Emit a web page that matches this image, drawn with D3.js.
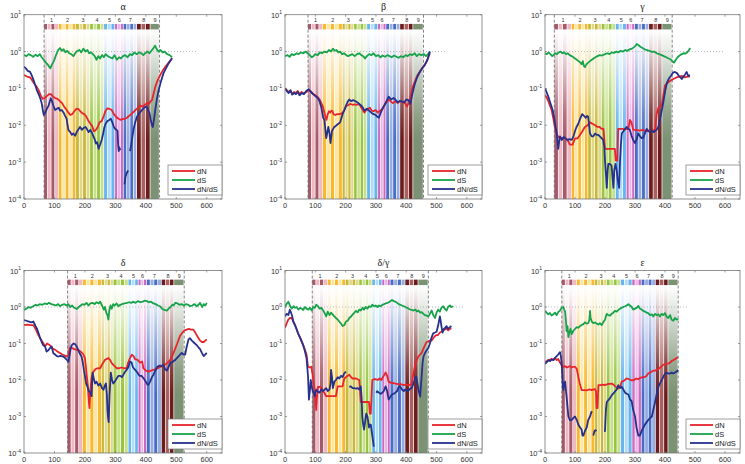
<!DOCTYPE html>
<html><head><meta charset="utf-8">
<script src="https://cdn.jsdelivr.net/npm/d3@7"></script>
<style>body{margin:0;background:#fff}svg{display:block}</style>
</head><body>
<svg id="c" width="745" height="464"></svg>
<script>
// ---------------- DATA ----------------
const xTicks = [0,100,200,300,400,500,600];
const yExponents = [1,0,-1,-2,-3,-4];
const seriesNames = ["dN","dS","dN/dS"];
const domainLabels = ["1","2","3","4","5","6","7","8","9"];
const domainDark  = ["#a45a68","#f8b830","#c8b838","#98c440","#68b4ec","#cc68c0","#4a6cc4","#6c1c1c","#7c9274"];
const domainLight = ["#f0b8c4","#fde6a0","#e0d888","#c8e08c","#b4dcf8","#eab4e4","#94aee4","#a86060","#7c9274"];
const domainSubStripes = [4,5,4,4,3,3,4,3,1];
const panelTitles = ["α","β","γ","δ","δ/γ","ε"];

const alphaDomains = [66,114,171,217,263,299,327,371,415,445];
const betaDomains  = [76,125,190,228,271,307,334,380,423,457];
const gammaDomains = [31,89,144,189,236,272,300,347,391,424];
const deltaDomains = [143,193,255,294,343,376,403,452,493,526];
const dgDomains    = [90,141,201,245,288,321,348,397,440,473];
const epsDomains   = [56,106,167,206,253,291,322,369,411,444];
const dottedEnds = [570,528,600,580,590,477];

const alphaDS = [[0,0.8],[8,0.75],[15,0.85],[22,0.8],[30,0.72],[38,0.82],[45,0.75],[52,0.85],[58,0.7],[65,0.6],[72,0.5],[80,0.42],[86,0.35],[92,0.45],[98,0.55],[105,0.8],[112,1.1],[118,1.25],[124,1.05],[130,1.15],[136,0.95],[142,1.05],[148,0.9],[155,0.85],[162,0.75],[168,0.9],[175,1.05],[182,1.1],[188,0.95],[195,1.2],[202,1.0],[208,1.1],[214,0.9],[220,0.95],[226,0.85],[232,0.75],[238,0.6],[244,0.75],[250,0.65],[256,0.8],[262,0.7],[268,0.85],[275,0.75],[282,0.7],[290,0.65],[297,0.8],[305,0.6],[312,0.7],[318,0.65],[325,0.75],[332,0.8],[340,0.7],[348,0.85],[355,0.8],[362,0.95],[370,0.85],[378,0.95],[385,0.9],[392,0.8],[398,0.9],[405,1.0],[412,0.9],[418,1.05],[424,1.2],[430,1.45],[436,1.15],[442,1.0],[448,1.1],[455,0.95],[462,1.0],[470,0.85],[478,0.8],[486,0.7]];
const alphaDN = [[0,0.23],[10,0.21],[20,0.2],[28,0.16],[35,0.13],[42,0.11],[48,0.09],[55,0.065],[61,0.052],[68,0.055],[75,0.062],[82,0.07],[88,0.07],[95,0.06],[102,0.055],[110,0.052],[118,0.045],[125,0.04],[132,0.032],[140,0.026],[146,0.022],[152,0.019],[158,0.02],[165,0.024],[172,0.028],[178,0.028],[185,0.024],[192,0.021],[198,0.02],[205,0.017],[212,0.013],[218,0.011],[224,0.0095],[230,0.0068],[236,0.0075],[242,0.009],[248,0.012],[255,0.013],[262,0.018],[268,0.025],[274,0.029],[280,0.028],[288,0.026],[295,0.02],[302,0.017],[310,0.015],[318,0.014],[325,0.015],[332,0.015],[338,0.016],[345,0.018],[352,0.02],[360,0.023],[368,0.027],[375,0.03],[382,0.034],[390,0.032],[397,0.036],[404,0.04],[410,0.038],[416,0.045],[420,0.048],[426,0.075],[431,0.11],[438,0.16],[447,0.23],[455,0.3],[465,0.4],[475,0.5],[486,0.66]];
const alphaR = [[0,0.39],[6,0.35],[12,0.3],[20,0.28],[26,0.22],[31,0.17],[36,0.13],[42,0.09],[48,0.07],[53,0.055],[58,0.04],[62,0.025],[65,0.019],[70,0.022],[75,0.028],[80,0.033],[85,0.045],[88,0.054],[92,0.045],[96,0.035],[102,0.026],[108,0.028],[114,0.03],[118,0.025],[124,0.026],[130,0.022],[135,0.018],[140,0.015],[143,0.01],[146,0.0074],[152,0.0065],[157,0.0055],[162,0.006],[168,0.0052],[174,0.0068],[180,0.008],[184,0.009],[190,0.0075],[196,0.0085],[202,0.009],[206,0.008],[212,0.0065],[218,0.0075],[224,0.006],[228,0.005],[232,0.0042],[236,0.0032],[240,0.0035],[245,0.0023],[250,0.003],[255,0.004],[260,0.006],[264,0.009],[268,0.011],[274,0.013],[280,0.014],[285,0.015],[290,0.012],[295,0.009],[299,0.008],[304,0.0075],[307,0.007],[309,0.003],[311,0.002],[313,0.0025],[316,0.0021],[318,null],[330,0.00025],[333,0.0004],[337,0.0005],[342,0.0006],[345,null],[348,0.002],[352,0.003],[356,0.005],[360,0.008],[365,0.012],[371,0.017],[376,0.02],[382,0.023],[388,0.026],[394,0.03],[400,0.032],[404,0.03],[408,0.025],[412,0.021],[416,0.014],[420,0.01],[423,0.009],[427,0.015],[431,0.026],[436,0.05],[442,0.09],[450,0.16],[458,0.26],[466,0.35],[476,0.5],[486,0.66]];

const betaDS = [[0,0.75],[8,0.8],[15,0.72],[22,0.85],[30,0.8],[38,0.9],[45,0.85],[52,0.95],[60,0.9],[68,1.0],[75,0.9],[82,0.8],[88,0.7],[94,0.75],[100,0.85],[108,0.8],[115,0.95],[122,0.9],[130,1.0],[138,0.95],[145,1.1],[152,1.0],[158,1.2],[164,1.05],[170,1.1],[176,0.95],[182,1.0],[188,0.85],[195,0.9],[202,0.8],[208,0.75],[215,0.8],[222,0.85],[230,0.75],[238,0.85],[245,0.9],[252,0.8],[258,0.75],[264,0.65],[270,0.75],[278,0.85],[285,0.8],[292,0.9],[300,0.75],[308,0.8],[315,0.7],[322,0.78],[330,0.72],[338,0.8],[345,0.75],[352,0.7],[360,0.78],[368,0.72],[375,0.68],[382,0.75],[390,0.7],[398,0.8],[405,0.75],[412,0.85],[420,0.8],[428,0.9],[435,0.75],[442,0.85],[450,0.8],[458,0.85],[465,0.75],[472,0.85],[478,1.0]];
const betaDN = [[0,0.1],[6,0.09],[12,0.08],[18,0.085],[24,0.07],[30,0.08],[36,0.075],[42,0.085],[48,0.07],[55,0.08],[62,0.072],[70,0.08],[78,0.09],[85,0.085],[92,0.07],[100,0.065],[108,0.058],[114,0.05],[120,0.04],[125,0.032],[130,0.022],[134,0.016],[137,0.014],[141,0.02],[145,0.024],[149,0.022],[153,0.025],[157,0.024],[160,0.02],[166,0.019],[172,0.02],[180,0.02],[188,0.021],[195,0.025],[201,0.033],[208,0.035],[215,0.038],[223,0.036],[230,0.037],[238,0.036],[245,0.038],[252,0.03],[258,0.025],[262,0.022],[268,0.026],[274,0.028],[280,0.03],[286,0.025],[292,0.024],[299,0.026],[306,0.022],[314,0.025],[321,0.027],[328,0.035],[335,0.042],[342,0.05],[348,0.045],[356,0.04],[364,0.045],[372,0.04],[380,0.046],[388,0.042],[396,0.04],[402,0.032],[408,0.04],[414,0.06],[420,0.1],[428,0.15],[436,0.22],[444,0.28],[452,0.35],[462,0.45],[470,0.6],[478,0.9]];
const betaR = [[0,0.1],[6,0.085],[12,0.075],[18,0.09],[24,0.068],[30,0.075],[36,0.07],[42,0.08],[48,0.065],[55,0.075],[62,0.07],[70,0.085],[78,0.095],[85,0.08],[92,0.072],[100,0.062],[108,0.055],[114,0.045],[120,0.03],[126,0.016],[130,0.014],[133,0.008],[136,0.0045],[139,0.006],[143,0.009],[147,0.006],[150,0.0033],[153,0.005],[155,0.007],[159,0.008],[163,0.009],[170,0.01],[176,0.011],[182,0.012],[190,0.02],[196,0.026],[202,0.035],[208,0.045],[212,0.05],[218,0.045],[225,0.048],[234,0.044],[242,0.04],[250,0.035],[255,0.032],[262,0.025],[270,0.028],[277,0.025],[285,0.022],[292,0.02],[299,0.019],[305,0.017],[310,0.016],[316,0.022],[321,0.028],[328,0.035],[335,0.045],[342,0.06],[350,0.05],[358,0.055],[364,0.05],[372,0.042],[380,0.046],[386,0.044],[394,0.042],[400,0.05],[408,0.048],[414,0.038],[420,0.07],[428,0.13],[436,0.2],[444,0.27],[452,0.34],[462,0.44],[470,0.6],[478,1.0]];

const gammaDS = [[0,0.9],[6,0.85],[12,0.95],[18,0.85],[24,0.75],[28,0.8],[34,0.9],[40,0.85],[46,0.95],[52,1.0],[58,0.9],[64,0.95],[70,0.85],[76,0.9],[82,0.8],[89,0.75],[95,0.7],[100,0.65],[106,0.6],[112,0.55],[118,0.5],[122,0.45],[126,0.55],[130,0.4],[133,0.38],[138,0.45],[144,0.5],[150,0.55],[156,0.6],[162,0.65],[168,0.7],[175,0.75],[182,0.8],[190,0.78],[200,0.85],[208,0.9],[215,0.85],[222,0.95],[230,0.92],[238,1.0],[245,0.95],[252,1.05],[260,1.0],[268,1.1],[275,1.05],[282,1.15],[290,1.2],[296,1.3],[302,1.45],[306,1.6],[311,1.5],[318,1.35],[325,1.25],[332,1.15],[340,1.1],[348,1.05],[356,0.98],[364,1.0],[372,0.9],[380,0.85],[389,0.8],[396,0.75],[404,0.7],[412,0.65],[418,0.62],[424,0.55],[430,0.5],[436,0.6],[442,0.7],[450,0.8],[456,0.85],[462,0.9],[468,0.88],[474,0.95],[480,1.1],[484,1.25]];
const gammaDN = [[0,0.066],[6,0.055],[11,0.045],[16,0.035],[22,0.026],[28,0.015],[33,0.009],[38,0.006],[44,0.0048],[52,0.0045],[60,0.0045],[67,0.0045],[75,0.004],[83,0.003],[92,0.003],[100,0.0044],[108,0.0044],[117,0.0055],[125,0.007],[133,0.009],[142,0.01],[150,0.012],[158,0.011],[167,0.01],[175,0.009],[182,0.009],[189,0.008],[195,0.008],[200,0.0023],[210,0.0023],[222,0.0023],[233,0.0023],[236,0.0011],[241,0.0011],[244,0.008],[255,0.008],[266,0.0078],[278,0.008],[283,0.014],[288,0.012],[294,0.0075],[305,0.0075],[315,0.0072],[325,0.0075],[335,0.007],[345,0.007],[356,0.0072],[367,0.0075],[372,0.02],[378,0.03],[383,0.032],[389,0.033],[394,0.06],[400,0.12],[408,0.14],[417,0.16],[428,0.18],[439,0.2],[447,0.21],[456,0.22],[465,0.2],[474,0.21],[483,0.21]];
const gammaR = [[0,0.1],[5,0.08],[11,0.06],[16,0.045],[22,0.032],[26,0.025],[31,0.015],[35,0.009],[39,0.006],[42,0.0035],[44,0.0023],[47,0.0035],[50,0.005],[56,0.004],[62,0.0048],[67,0.0045],[74,0.004],[82,0.0042],[89,0.004],[95,0.005],[100,0.007],[105,0.009],[111,0.011],[117,0.015],[124,0.02],[130,0.018],[136,0.016],[141,0.018],[144,0.017],[147,0.01],[150,0.006],[156,0.005],[161,0.005],[167,0.006],[172,0.0055],[178,0.0055],[185,0.0048],[194,0.004],[198,0.0025],[200,0.0011],[203,0.0005],[206,0.0002],[209,0.0006],[211,0.0009],[216,0.0009],[222,0.0008],[225,0.0004],[228,0.0002],[231,0.0006],[235,0.0009],[239,0.0006],[243,0.0003],[247,0.0002],[250,0.001],[253,0.003],[256,0.006],[262,0.007],[267,0.008],[272,0.009],[278,0.008],[283,0.0075],[289,0.005],[294,0.004],[300,0.0033],[305,0.004],[311,0.006],[317,0.005],[322,0.0045],[328,0.0047],[333,0.006],[339,0.008],[345,0.007],[350,0.0065],[356,0.0072],[362,0.0065],[367,0.007],[372,0.0075],[378,0.009],[383,0.014],[389,0.025],[394,0.04],[400,0.08],[406,0.14],[412,0.18],[420,0.22],[427,0.27],[433,0.28],[440,0.26],[446,0.22],[451,0.2],[456,0.18],[462,0.21],[467,0.24],[472,0.28],[477,0.22],[483,0.23]];

const deltaDS = [[0,0.83],[8,0.9],[15,1.0],[22,0.95],[30,1.05],[38,1.15],[45,1.1],[52,1.2],[60,1.15],[68,1.25],[75,1.2],[82,1.3],[90,1.2],[98,1.15],[105,1.1],[112,1.2],[118,1.05],[125,1.15],[132,1.2],[140,1.1],[145,1.2],[152,1.0],[158,1.1],[165,0.95],[173,0.88],[180,1.0],[186,1.1],[192,1.2],[198,1.15],[205,1.3],[212,1.1],[218,1.25],[225,1.3],[232,1.2],[238,1.35],[245,1.25],[250,1.4],[256,1.1],[262,0.85],[266,1.0],[270,0.7],[274,0.6],[277,0.45],[280,0.8],[284,1.1],[288,0.9],[293,1.2],[298,1.1],[304,1.25],[310,1.05],[316,1.15],[322,1.2],[330,1.25],[338,1.3],[345,1.35],[352,1.3],[359,1.4],[366,1.3],[374,1.45],[382,1.35],[390,1.4],[397,1.5],[403,1.45],[410,1.35],[417,1.4],[425,1.25],[432,1.2],[440,1.1],[447,1.05],[453,0.9],[458,0.85],[464,0.82],[469,0.8],[475,0.9],[481,1.0],[487,1.15],[491,1.1],[497,1.3],[504,1.25],[510,1.15],[517,1.2],[525,1.1],[532,1.2],[540,1.15],[545,1.05],[552,1.1],[560,1.2],[567,1.05],[573,1.15],[578,1.3],[585,1.0],[590,1.2],[595,1.1],[600,1.3]];
const deltaDN = [[0,0.32],[10,0.33],[20,0.32],[31,0.32],[38,0.25],[47,0.17],[55,0.13],[64,0.1],[70,0.085],[76,0.1],[80,0.095],[85,0.09],[92,0.075],[98,0.07],[102,0.068],[110,0.06],[118,0.055],[126,0.05],[134,0.047],[140,0.044],[145,0.048],[151,0.076],[158,0.075],[165,0.07],[173,0.067],[180,0.065],[188,0.058],[195,0.05],[200,0.04],[204,0.02],[206,0.013],[209,0.008],[211,0.0044],[213,0.0025],[215,0.0017],[217,0.004],[219,0.0067],[222,0.012],[228,0.017],[235,0.02],[242,0.021],[250,0.021],[258,0.028],[266,0.036],[272,0.038],[277,0.04],[283,0.035],[288,0.029],[295,0.025],[304,0.021],[312,0.021],[320,0.022],[328,0.021],[337,0.021],[342,0.03],[348,0.04],[354,0.049],[360,0.045],[365,0.037],[372,0.036],[381,0.03],[388,0.032],[392,0.021],[400,0.018],[409,0.017],[417,0.018],[425,0.019],[433,0.02],[440,0.021],[447,0.023],[455,0.024],[462,0.026],[469,0.029],[475,0.032],[480,0.036],[486,0.045],[491,0.055],[497,0.075],[503,0.1],[512,0.16],[520,0.2],[527,0.23],[534,0.24],[541,0.25],[548,0.24],[556,0.24],[562,0.2],[567,0.17],[573,0.14],[578,0.12],[584,0.11],[590,0.11],[595,0.12],[600,0.13]];
const deltaR = [[0,0.44],[8,0.42],[16,0.4],[24,0.38],[31,0.4],[38,0.3],[43,0.25],[47,0.2],[52,0.15],[58,0.11],[63,0.09],[69,0.083],[74,0.06],[80,0.065],[85,0.075],[91,0.083],[96,0.055],[102,0.05],[108,0.045],[113,0.044],[120,0.046],[129,0.044],[135,0.04],[140,0.036],[146,0.032],[150,0.05],[154,0.08],[157,0.09],[163,0.1],[168,0.095],[173,0.083],[180,0.06],[185,0.05],[189,0.044],[193,0.03],[197,0.018],[200,0.013],[204,0.008],[208,0.0067],[213,0.005],[218,0.0045],[222,0.0036],[225,0.016],[228,0.012],[233,0.008],[238,0.009],[244,0.007],[250,0.008],[256,0.006],[261,0.0054],[265,0.007],[269,0.008],[272,0.004],[274,0.0015],[276,0.0009],[278,0.0007],[281,0.004],[285,0.016],[289,0.01],[293,0.008],[298,0.009],[304,0.011],[310,0.013],[315,0.013],[322,0.012],[330,0.016],[337,0.019],[342,0.022],[348,0.032],[353,0.03],[358,0.022],[365,0.019],[372,0.016],[379,0.013],[386,0.013],[393,0.011],[400,0.009],[405,0.0075],[409,0.0075],[414,0.009],[420,0.012],[425,0.014],[431,0.018],[436,0.022],[441,0.024],[447,0.025],[452,0.024],[458,0.026],[463,0.02],[469,0.018],[474,0.022],[480,0.03],[486,0.03],[491,0.033],[496,0.035],[502,0.04],[508,0.045],[513,0.05],[518,0.055],[524,0.05],[529,0.05],[534,0.08],[540,0.13],[545,0.14],[551,0.12],[556,0.11],[561,0.1],[567,0.09],[572,0.08],[578,0.07],[584,0.055],[590,0.045],[595,0.05],[600,0.055]];

const dgDS = [[0,1.0],[5,1.2],[11,1.4],[16,1.1],[22,0.9],[28,1.05],[33,0.95],[38,1.0],[44,0.85],[50,0.95],[55,0.9],[60,0.83],[66,1.0],[71,0.9],[77,0.85],[82,0.95],[88,0.8],[93,1.0],[98,0.95],[103,1.15],[109,1.05],[114,0.9],[120,0.95],[125,0.83],[130,0.7],[136,0.55],[141,0.75],[147,0.6],[152,0.7],[158,0.62],[163,0.55],[168,0.5],[174,0.45],[179,0.4],[185,0.35],[190,0.3],[196,0.32],[201,0.4],[207,0.42],[212,0.5],[218,0.55],[223,0.62],[229,0.7],[234,0.78],[240,0.72],[245,0.85],[250,0.8],[256,0.95],[261,0.85],[266,1.0],[272,0.9],[277,1.05],[283,1.0],[288,1.15],[294,1.05],[299,1.1],[305,1.0],[310,1.1],[316,1.05],[321,1.15],[327,1.2],[332,1.25],[338,1.3],[343,1.35],[348,1.45],[353,1.55],[359,1.45],[364,1.4],[370,1.3],[375,1.2],[381,1.15],[386,1.1],[392,1.05],[397,1.0],[403,0.95],[408,0.9],[413,0.85],[418,0.83],[424,0.8],[430,0.85],[435,0.75],[440,0.8],[446,0.7],[451,0.72],[457,0.65],[462,0.6],[468,0.58],[473,0.55],[478,0.65],[484,0.8],[489,0.6],[495,0.5],[500,0.7],[505,0.85],[511,0.75],[516,0.95],[522,1.05],[527,0.9],[533,0.8],[538,1.0],[544,1.1],[549,1.0],[555,1.05]];
const dgDN = [[0,0.27],[5,0.35],[11,0.45],[16,0.5],[22,0.5],[27,0.42],[33,0.32],[38,0.25],[43,0.19],[49,0.15],[54,0.12],[60,0.09],[65,0.07],[71,0.05],[76,0.023],[81,0.022],[87,0.023],[90,0.016],[92,0.0125],[95,0.008],[98,0.0054],[101,0.003],[103,0.0015],[106,0.004],[109,0.0065],[114,0.0065],[120,0.006],[125,0.005],[130,0.0044],[136,0.0036],[145,0.0036],[155,0.0036],[163,0.0036],[168,0.0036],[174,0.0067],[182,0.0067],[190,0.0067],[193,0.009],[196,0.011],[201,0.012],[207,0.013],[212,0.014],[218,0.012],[223,0.011],[229,0.011],[234,0.011],[240,0.0105],[245,0.01],[250,0.0025],[258,0.0025],[266,0.0025],[272,0.0025],[277,0.0025],[280,0.0012],[283,0.0012],[288,0.01],[294,0.0105],[300,0.0105],[306,0.01],[312,0.011],[318,0.01],[323,0.012],[328,0.014],[332,0.016],[337,0.013],[342,0.009],[348,0.0085],[353,0.0082],[359,0.0082],[364,0.008],[370,0.0078],[375,0.0075],[381,0.0078],[386,0.0075],[392,0.0072],[397,0.0075],[402,0.0075],[408,0.0072],[413,0.0075],[418,0.0075],[424,0.015],[429,0.026],[435,0.035],[440,0.044],[446,0.05],[451,0.055],[456,0.07],[462,0.09],[467,0.11],[473,0.115],[478,0.12],[484,0.12],[489,0.14],[495,0.16],[500,0.17],[505,0.17],[511,0.2],[516,0.21],[522,0.23],[527,0.24],[533,0.26],[538,0.23],[544,0.25],[549,0.26]];
const dgR = [[0,0.55],[5,0.65],[11,0.6],[16,0.84],[20,0.7],[24,0.55],[27,0.4],[33,0.32],[38,0.25],[43,0.19],[49,0.15],[54,0.12],[60,0.09],[65,0.065],[71,0.04],[74,0.02],[76,0.0125],[79,0.0029],[82,0.005],[85,0.01],[89,0.006],[92,0.0048],[95,0.0045],[98,0.0036],[101,0.005],[103,0.0054],[108,0.0048],[114,0.0045],[120,0.0055],[125,0.005],[130,0.0054],[136,0.006],[141,0.005],[147,0.0055],[150,0.008],[152,0.019],[155,0.012],[158,0.006],[163,0.009],[168,0.01],[174,0.012],[179,0.011],[185,0.013],[190,0.012],[195,0.015],[201,0.017],[204,null],[212,0.0065],[217,0.0067],[223,0.006],[229,0.006],[234,0.0058],[240,0.006],[245,0.0055],[250,0.0067],[253,0.003],[255,0.001],[258,0.0006],[261,0.00044],[265,0.0008],[268,0.0012],[272,0.001],[275,0.0007],[277,0.0005],[280,0.0006],[283,0.0006],[286,0.0004],[288,0.0003],[291,0.0002],[293,0.00015],[295,null],[301,0.0045],[304,0.0049],[310,0.0045],[316,0.0042],[321,0.0045],[326,0.005],[332,0.0067],[337,0.005],[342,0.0029],[348,0.0035],[353,0.004],[359,0.0042],[364,0.0045],[370,0.005],[375,0.0065],[380,0.0067],[386,0.0055],[392,0.005],[397,0.0055],[402,0.005],[408,0.0052],[413,0.0058],[418,0.006],[424,0.008],[429,0.011],[433,0.0125],[437,0.008],[441,0.005],[446,0.0035],[450,0.01],[454,0.03],[457,0.044],[462,0.055],[467,0.065],[473,0.075],[478,0.1],[484,0.15],[489,0.19],[495,0.2],[500,0.21],[505,0.3],[511,0.55],[514,0.4],[516,0.3],[520,0.2],[524,0.25],[529,0.27],[533,0.3],[538,0.25],[544,0.28],[549,0.3]];

const epsDS = [[0,0.78],[5,0.7],[11,0.63],[17,0.68],[22,0.58],[28,0.63],[33,0.7],[39,0.6],[44,0.72],[50,0.8],[56,0.95],[61,1.0],[64,0.85],[67,0.75],[70,0.4],[72,0.22],[75,0.3],[78,0.15],[81,0.2],[85,0.25],[89,0.18],[94,0.22],[100,0.25],[106,0.28],[111,0.27],[117,0.3],[122,0.32],[128,0.34],[133,0.38],[139,0.35],[144,0.36],[148,0.45],[150,0.78],[152,0.5],[156,0.4],[161,0.36],[167,0.38],[172,0.35],[178,0.33],[183,0.36],[189,0.32],[194,0.38],[200,0.45],[203,0.55],[206,0.65],[211,0.6],[217,0.58],[222,0.65],[228,0.7],[233,0.78],[239,0.75],[244,0.82],[250,0.9],[256,0.96],[261,1.0],[267,1.05],[272,1.1],[278,1.2],[283,1.1],[289,1.0],[294,0.85],[300,0.9],[306,0.95],[311,1.07],[317,0.9],[322,0.85],[328,0.78],[333,0.75],[339,0.7],[344,0.68],[350,0.6],[356,0.63],[361,0.55],[367,0.65],[372,0.6],[378,0.63],[383,0.55],[389,0.65],[394,0.6],[400,0.68],[405,0.55],[411,0.5],[417,0.6],[422,0.45],[428,0.42],[433,0.5],[439,0.45],[444,0.48]];
const epsDN = [[0,0.031],[6,0.033],[11,0.035],[17,0.036],[22,0.038],[28,0.036],[33,0.04],[39,0.035],[44,0.038],[50,0.03],[56,0.025],[61,0.023],[67,0.024],[72,0.022],[78,0.023],[83,0.024],[89,0.022],[94,0.023],[100,0.023],[106,0.02],[111,0.012],[116,0.008],[122,0.0053],[130,0.0053],[139,0.0052],[147,0.0055],[156,0.0053],[162,0.0055],[167,0.0056],[170,0.0048],[172,0.0017],[175,0.0017],[178,0.0072],[185,0.0072],[192,0.0075],[199,0.0072],[206,0.0076],[213,0.0078],[222,0.008],[228,0.0075],[233,0.0068],[239,0.0062],[244,0.0058],[250,0.0065],[256,0.009],[263,0.0095],[272,0.011],[280,0.0105],[289,0.0098],[297,0.01],[304,0.011],[311,0.0105],[318,0.0115],[326,0.012],[333,0.012],[339,0.013],[344,0.015],[350,0.016],[356,0.017],[361,0.018],[367,0.018],[372,0.019],[378,0.02],[384,0.022],[389,0.024],[394,0.026],[400,0.027],[405,0.028],[411,0.028],[417,0.03],[422,0.033],[428,0.035],[433,0.037],[439,0.04],[444,0.042]];
const epsR = [[0,0.028],[5,0.03],[11,0.035],[17,0.033],[22,0.036],[28,0.035],[33,0.04],[39,0.045],[44,0.05],[50,0.058],[53,0.045],[56,0.025],[59,0.008],[61,0.0053],[64,0.008],[67,0.009],[70,0.005],[72,0.0035],[75,0.0018],[78,0.001],[83,0.0008],[89,0.0008],[94,0.0009],[100,0.001],[106,0.0008],[111,0.0006],[117,0.0005],[122,0.00044],[125,0.0003],[128,0.0003],[133,0.0004],[139,0.0005],[144,0.0008],[150,0.001],[153,0.0012],[156,0.0014],[158,null],[161,0.0003],[165,0.0004],[168,0.00042],[172,0.0004],[174,null],[197,0.0004],[200,0.0004],[203,0.0015],[206,0.0025],[211,0.0028],[217,0.0032],[222,0.0038],[228,0.0043],[233,0.0048],[239,0.0055],[244,0.0072],[250,0.006],[256,0.0065],[261,0.0055],[267,0.0045],[272,0.0042],[278,0.004],[283,0.003],[289,0.0026],[294,0.0015],[300,0.001],[305,0.0005],[311,0.0003],[316,0.0003],[322,0.0004],[328,0.0005],[333,0.0006],[339,0.0007],[344,0.0008],[350,0.0009],[356,0.001],[361,0.0015],[367,0.0025],[372,0.004],[378,0.0065],[383,0.008],[389,0.01],[394,0.012],[400,0.015],[405,0.016],[411,0.015],[417,0.015],[422,0.016],[428,0.015],[433,0.016],[439,0.017],[444,0.019]];

// ---------------- LAYOUT ----------------
const frames = [
  {l:24, r:222, t:14.7, b:199, ty:6},
  {l:285, r:482, t:14.7, b:199, ty:6},
  {l:545, r:740, t:14.7, b:199, ty:6},
  {l:24, r:222, t:270.5, b:453, ty:262},
  {l:285, r:482, t:270.5, b:453, ty:262},
  {l:545, r:740, t:270.5, b:453, ty:262}
];
const panelData = [
  {dn:alphaDN, ds:alphaDS, r:alphaR, dom:alphaDomains},
  {dn:betaDN, ds:betaDS, r:betaR, dom:betaDomains},
  {dn:gammaDN, ds:gammaDS, r:gammaR, dom:gammaDomains},
  {dn:deltaDN, ds:deltaDS, r:deltaR, dom:deltaDomains},
  {dn:dgDN, ds:dgDS, r:dgR, dom:dgDomains},
  {dn:epsDN, ds:epsDS, r:epsR, dom:epsDomains}
];
const colors = {dN:"#e8242c", dS:"#17a34a", dNdS:"#25318c"};
const font = "'Liberation Sans', Arial, sans-serif";

const svg = d3.select("#c");
const defs = svg.append("defs");

// gradients per colour
function gradId(d, k){ return "g"+d+"_"+k; }
for (let d=0; d<9; d++){
  [domainDark[d], domainLight[d]].forEach((col,k)=>{
    const g = defs.append("linearGradient").attr("id",gradId(d,k))
      .attr("x1",0).attr("y1",0).attr("x2",0).attr("y2",1);
    [[0,0.0],[0.12,0.18],[0.3,0.5],[0.5,0.85],[0.65,1],[1,1]].forEach(([o,a])=>{
      g.append("stop").attr("offset",o).attr("stop-color",col).attr("stop-opacity",a);
    });
  });
}

panelData.forEach((p,i)=>{
  const f = frames[i];
  const x = d3.scaleLinear().domain([0,650]).range([f.l,f.r]);
  const y = d3.scaleLog().domain([1e-4,10]).range([f.b,f.t]);
  const g = svg.append("g");
  defs.append("clipPath").attr("id","clip"+i).append("rect")
    .attr("x",f.l).attr("y",f.t).attr("width",f.r-f.l).attr("height",f.b-f.t);

  // stripes
  const hdrTop = y(Math.pow(10,0.75)), hdrBot = y(Math.pow(10,0.6));
  for (let d=0; d<9; d++){
    const a = p.dom[d], b = p.dom[d+1], n = domainSubStripes[d];
    for (let s=0; s<n; s++){
      const sa = a + (b-a)*s/n, sb = a + (b-a)*(s+1)/n;
      const k = s%2;
      const x0 = x(sa), w = Math.max(0.5, x(sb)-x(sa)-0.7);
      g.append("rect").attr("x",x0).attr("y",hdrBot).attr("width",w).attr("height",f.b-hdrBot)
        .attr("fill","url(#"+gradId(d,k)+")");
      g.append("rect").attr("x",x0).attr("y",hdrTop).attr("width",w).attr("height",hdrBot-hdrTop)
        .attr("fill",k===0?domainDark[d]:domainLight[d]);
    }
    g.append("text").attr("x",x((a+b)/2)).attr("y",y(Math.pow(10,0.8)))
      .attr("text-anchor","middle").attr("font-family",font).attr("font-size",5.5).attr("fill","#333")
      .text(domainLabels[d]);
  }
  // dashed borders
  [p.dom[0], p.dom[9]].forEach(v=>{
    g.append("line").attr("x1",x(v)).attr("x2",x(v)).attr("y1",f.t).attr("y2",f.b)
      .attr("stroke","#666").attr("stroke-width",0.8).attr("stroke-dasharray","3,2");
  });
  // dotted y=1
  g.append("line").attr("x1",x(0)).attr("x2",x(dottedEnds[i])).attr("y1",y(1)).attr("y2",y(1))
    .attr("stroke","#aaa").attr("stroke-width",0.8).attr("stroke-dasharray","1,2");

  // series
  const line = d3.line().defined(d=>d[1]!==null).x(d=>x(d[0])).y(d=>y(d[1]));
  const lg = g.append("g").attr("clip-path","url(#clip"+i+")");
  [[p.dn,colors.dN],[p.ds,colors.dS],[p.r,colors.dNdS]].forEach(([data,col])=>{
    lg.append("path").datum(data).attr("d",line).attr("fill","none")
      .attr("stroke",col).attr("stroke-width",1.8).attr("stroke-linejoin","round");
  });

  // axes box
  g.append("rect").attr("x",f.l).attr("y",f.t).attr("width",f.r-f.l).attr("height",f.b-f.t)
    .attr("fill","none").attr("stroke","#777").attr("stroke-width",0.8);
  // x ticks
  xTicks.forEach(v=>{
    g.append("line").attr("x1",x(v)).attr("x2",x(v)).attr("y1",f.b).attr("y2",f.b-2).attr("stroke","#777").attr("stroke-width",0.7);
    g.append("line").attr("x1",x(v)).attr("x2",x(v)).attr("y1",f.t).attr("y2",f.t+2).attr("stroke","#777").attr("stroke-width",0.7);
    g.append("text").attr("x",x(v)).attr("y",f.b+9).attr("text-anchor","middle")
      .attr("font-family",font).attr("font-size",7.5).attr("fill","#333").text(v);
  });
  // y ticks
  yExponents.forEach(e=>{
    const yy = y(Math.pow(10,e));
    g.append("line").attr("x1",f.l).attr("x2",f.l+2).attr("y1",yy).attr("y2",yy).attr("stroke","#777").attr("stroke-width",0.7);
    g.append("line").attr("x1",f.r).attr("x2",f.r-2).attr("y1",yy).attr("y2",yy).attr("stroke","#777").attr("stroke-width",0.7);
    const t = g.append("text").attr("x",f.l-3).attr("y",yy+3).attr("text-anchor","end")
      .attr("font-family",font).attr("font-size",7.5).attr("fill","#333");
    t.append("tspan").text("10");
    t.append("tspan").attr("dy",-3.5).attr("font-size",5).text(e);
  });
  // title
  g.append("text").attr("x",(f.l+f.r)/2).attr("y",f.ty+3.5).attr("text-anchor","middle")
    .attr("font-family","'Liberation Serif','DejaVu Serif',serif").attr("font-size",10).attr("fill","#222")
    .text(panelTitles[i]);
  // legend
  const lw = 54, lh = 30, lx = f.r-lw, ly = f.b-lh-4;
  const leg = g.append("g");
  leg.append("rect").attr("x",lx).attr("y",ly).attr("width",lw).attr("height",lh)
    .attr("fill","#fff").attr("stroke","#777").attr("stroke-width",0.7);
  [colors.dN,colors.dS,colors.dNdS].forEach((c,j)=>{
    const yy = ly+6+j*9;
    leg.append("line").attr("x1",lx+4).attr("x2",lx+27).attr("y1",yy).attr("y2",yy).attr("stroke",c).attr("stroke-width",1.8);
    leg.append("text").attr("x",lx+29).attr("y",yy+3).attr("font-family",font).attr("font-size",7.5)
      .attr("fill","#222").text(seriesNames[j]);
  });
});
</script>
</body></html>
